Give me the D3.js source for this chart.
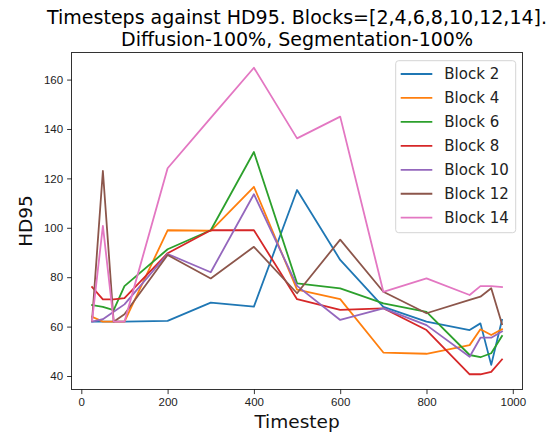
<!DOCTYPE html>
<html>
<head>
<meta charset="utf-8">
<script src="https://cdn.jsdelivr.net/npm/d3@7"></script>
<style>
  html, body { margin: 0; padding: 0; background: #fff; }
  svg { display: block; font-family: "DejaVu Sans", sans-serif; }
</style>
</head>
<body>
<svg id="chart" width="554" height="435"></svg>
<script>
// Timesteps sampled for every block
const timesteps = [25, 50, 75, 100, 200, 300, 400, 500, 600, 700, 800, 900, 925, 950, 975];

// HD95 per block
const block2  = [62, 62, 62, 62, 62.3, 69.7, 68.1, 115.3, 87, 68, 62, 58.6, 61.3, 44.5, 62.7];
const block4  = [64, 62, 62, 62, 99, 98.8, 116.6, 75, 71.1, 49.5, 49, 52.5, 58.9, 56.6, 58.9];
const block6  = [68.7, 68, 66.7, 76.4, 91.3, 99, 130.7, 77.5, 75.5, 69.4, 66, 48.5, 47.6, 49.2, 56.2];
const block8  = [76, 71, 71, 71.5, 89.7, 99, 99, 71.1, 66.8, 67.4, 58.6, 40.7, 40.7, 41.7, 46.7];
const block10 = [62, 63, 66, 69, 89.4, 82, 113.6, 76.5, 62.7, 67.4, 60.6, 47.8, 55.5, 55.5, 58];
const block12 = [62.5, 123, 62, 65, 89, 79.5, 92.3, 73.5, 95.2, 74.1, 65.4, 70.8, 72.1, 75.5, 61];
const block14 = [62.5, 100.8, 62, 62, 124.1, 144.5, 164.8, 136.2, 145, 74.1, 79.5, 72.8, 76.4, 76.4, 76];

const seriesNames = ["Block 2", "Block 4", "Block 6", "Block 8", "Block 10", "Block 12", "Block 14"];
const seriesValues = [block2, block4, block6, block8, block10, block12, block14];
const colors = ["#1f77b4", "#ff7f0e", "#2ca02c", "#d62728", "#9467bd", "#8c564b", "#e377c2"];

const xTicks = [0, 200, 400, 600, 800, 1000];
const yTicks = [40, 60, 80, 100, 120, 140, 160];

const titleLines = ["Timesteps against HD95. Blocks=[2,4,6,8,10,12,14].", "Diffusion-100%, Segmentation-100%"];
const xLabel = "Timestep";
const yLabel = "HD95";

const svg = d3.select("#chart");
const plot = { left: 71.6, right: 522.5, top: 52.4, bottom: 389.6 };

// Axis limits padded by 5% of the data span on each side
function padded(ext) {
  const pad = (ext[1] - ext[0]) * 0.05;
  return [ext[0] - pad, ext[1] + pad];
}
const allVals = seriesValues.flat();
const x = d3.scaleLinear().domain(padded(d3.extent(timesteps))).range([plot.left, plot.right]);
const y = d3.scaleLinear().domain(padded(d3.extent(allVals))).range([plot.bottom, plot.top]);

// Series lines
const line = d3.line().x((d, i) => x(timesteps[i])).y(d => y(d));
const g = svg.append("g");
seriesValues.forEach((vals, k) => {
  g.append("path")
    .datum(vals)
    .attr("d", line)
    .attr("fill", "none")
    .attr("stroke", colors[k])
    .attr("stroke-width", 1.8)
    .attr("stroke-linejoin", "round")
    .attr("stroke-linecap", "square");
});

// Axes
const xAxis = d3.axisBottom(x).tickValues(xTicks).tickSize(4.5).tickPadding(4).tickFormat(d3.format("d"));
const yAxis = d3.axisLeft(y).tickValues(yTicks).tickSize(4.5).tickPadding(4).tickFormat(d3.format("d"));

const gx = svg.append("g").attr("transform", `translate(0,${plot.bottom})`).call(xAxis);
const gy = svg.append("g").attr("transform", `translate(${plot.left},0)`).call(yAxis);
[gx, gy].forEach(ax => {
  ax.select(".domain").remove();
  ax.selectAll(".tick line").attr("stroke", "#000").attr("stroke-width", 0.8);
  ax.selectAll(".tick text").attr("fill", "#222").style("font-size", "11.5px");
});

// Frame
svg.append("rect")
  .attr("x", plot.left).attr("y", plot.top)
  .attr("width", plot.right - plot.left).attr("height", plot.bottom - plot.top)
  .attr("fill", "none").attr("stroke", "#000").attr("stroke-width", 0.8);

// Title
const title = svg.append("text")
  .attr("text-anchor", "middle")
  .attr("fill", "#000")
  .style("font-size", "19px");
titleLines.forEach((t, i) => {
  title.append("tspan")
    .attr("x", (plot.left + plot.right) / 2)
    .attr("y", 24 + i * 22)
    .text(t);
});

// Axis labels
svg.append("text")
  .attr("x", (plot.left + plot.right) / 2)
  .attr("y", 428)
  .attr("text-anchor", "middle")
  .style("font-size", "18.5px")
  .attr("fill", "#111")
  .text(xLabel);

svg.append("text")
  .attr("transform", `translate(32,${(plot.top + plot.bottom) / 2}) rotate(-90)`)
  .attr("text-anchor", "middle")
  .style("font-size", "18.5px")
  .attr("fill", "#111")
  .text(yLabel);

// Legend
const legend = svg.append("g").attr("transform", "translate(395.7,60.7)");
legend.append("rect")
  .attr("width", 120).attr("height", 172)
  .attr("rx", 3).attr("ry", 3)
  .attr("fill", "#fff").attr("fill-opacity", 0.8)
  .attr("stroke", "#d0d0d0").attr("stroke-width", 0.9);
seriesNames.forEach((name, k) => {
  const row = legend.append("g").attr("transform", `translate(0,${13.3 + k * 23.95})`);
  row.append("line")
    .attr("x1", 5).attr("x2", 36.6)
    .attr("stroke", colors[k]).attr("stroke-width", 1.8);
  row.append("text")
    .attr("x", 48.6)
    .attr("dy", "0.35em")
    .style("font-size", "15px")
    .attr("fill", "#222")
    .text(name);
});
</script>
</body>
</html>
